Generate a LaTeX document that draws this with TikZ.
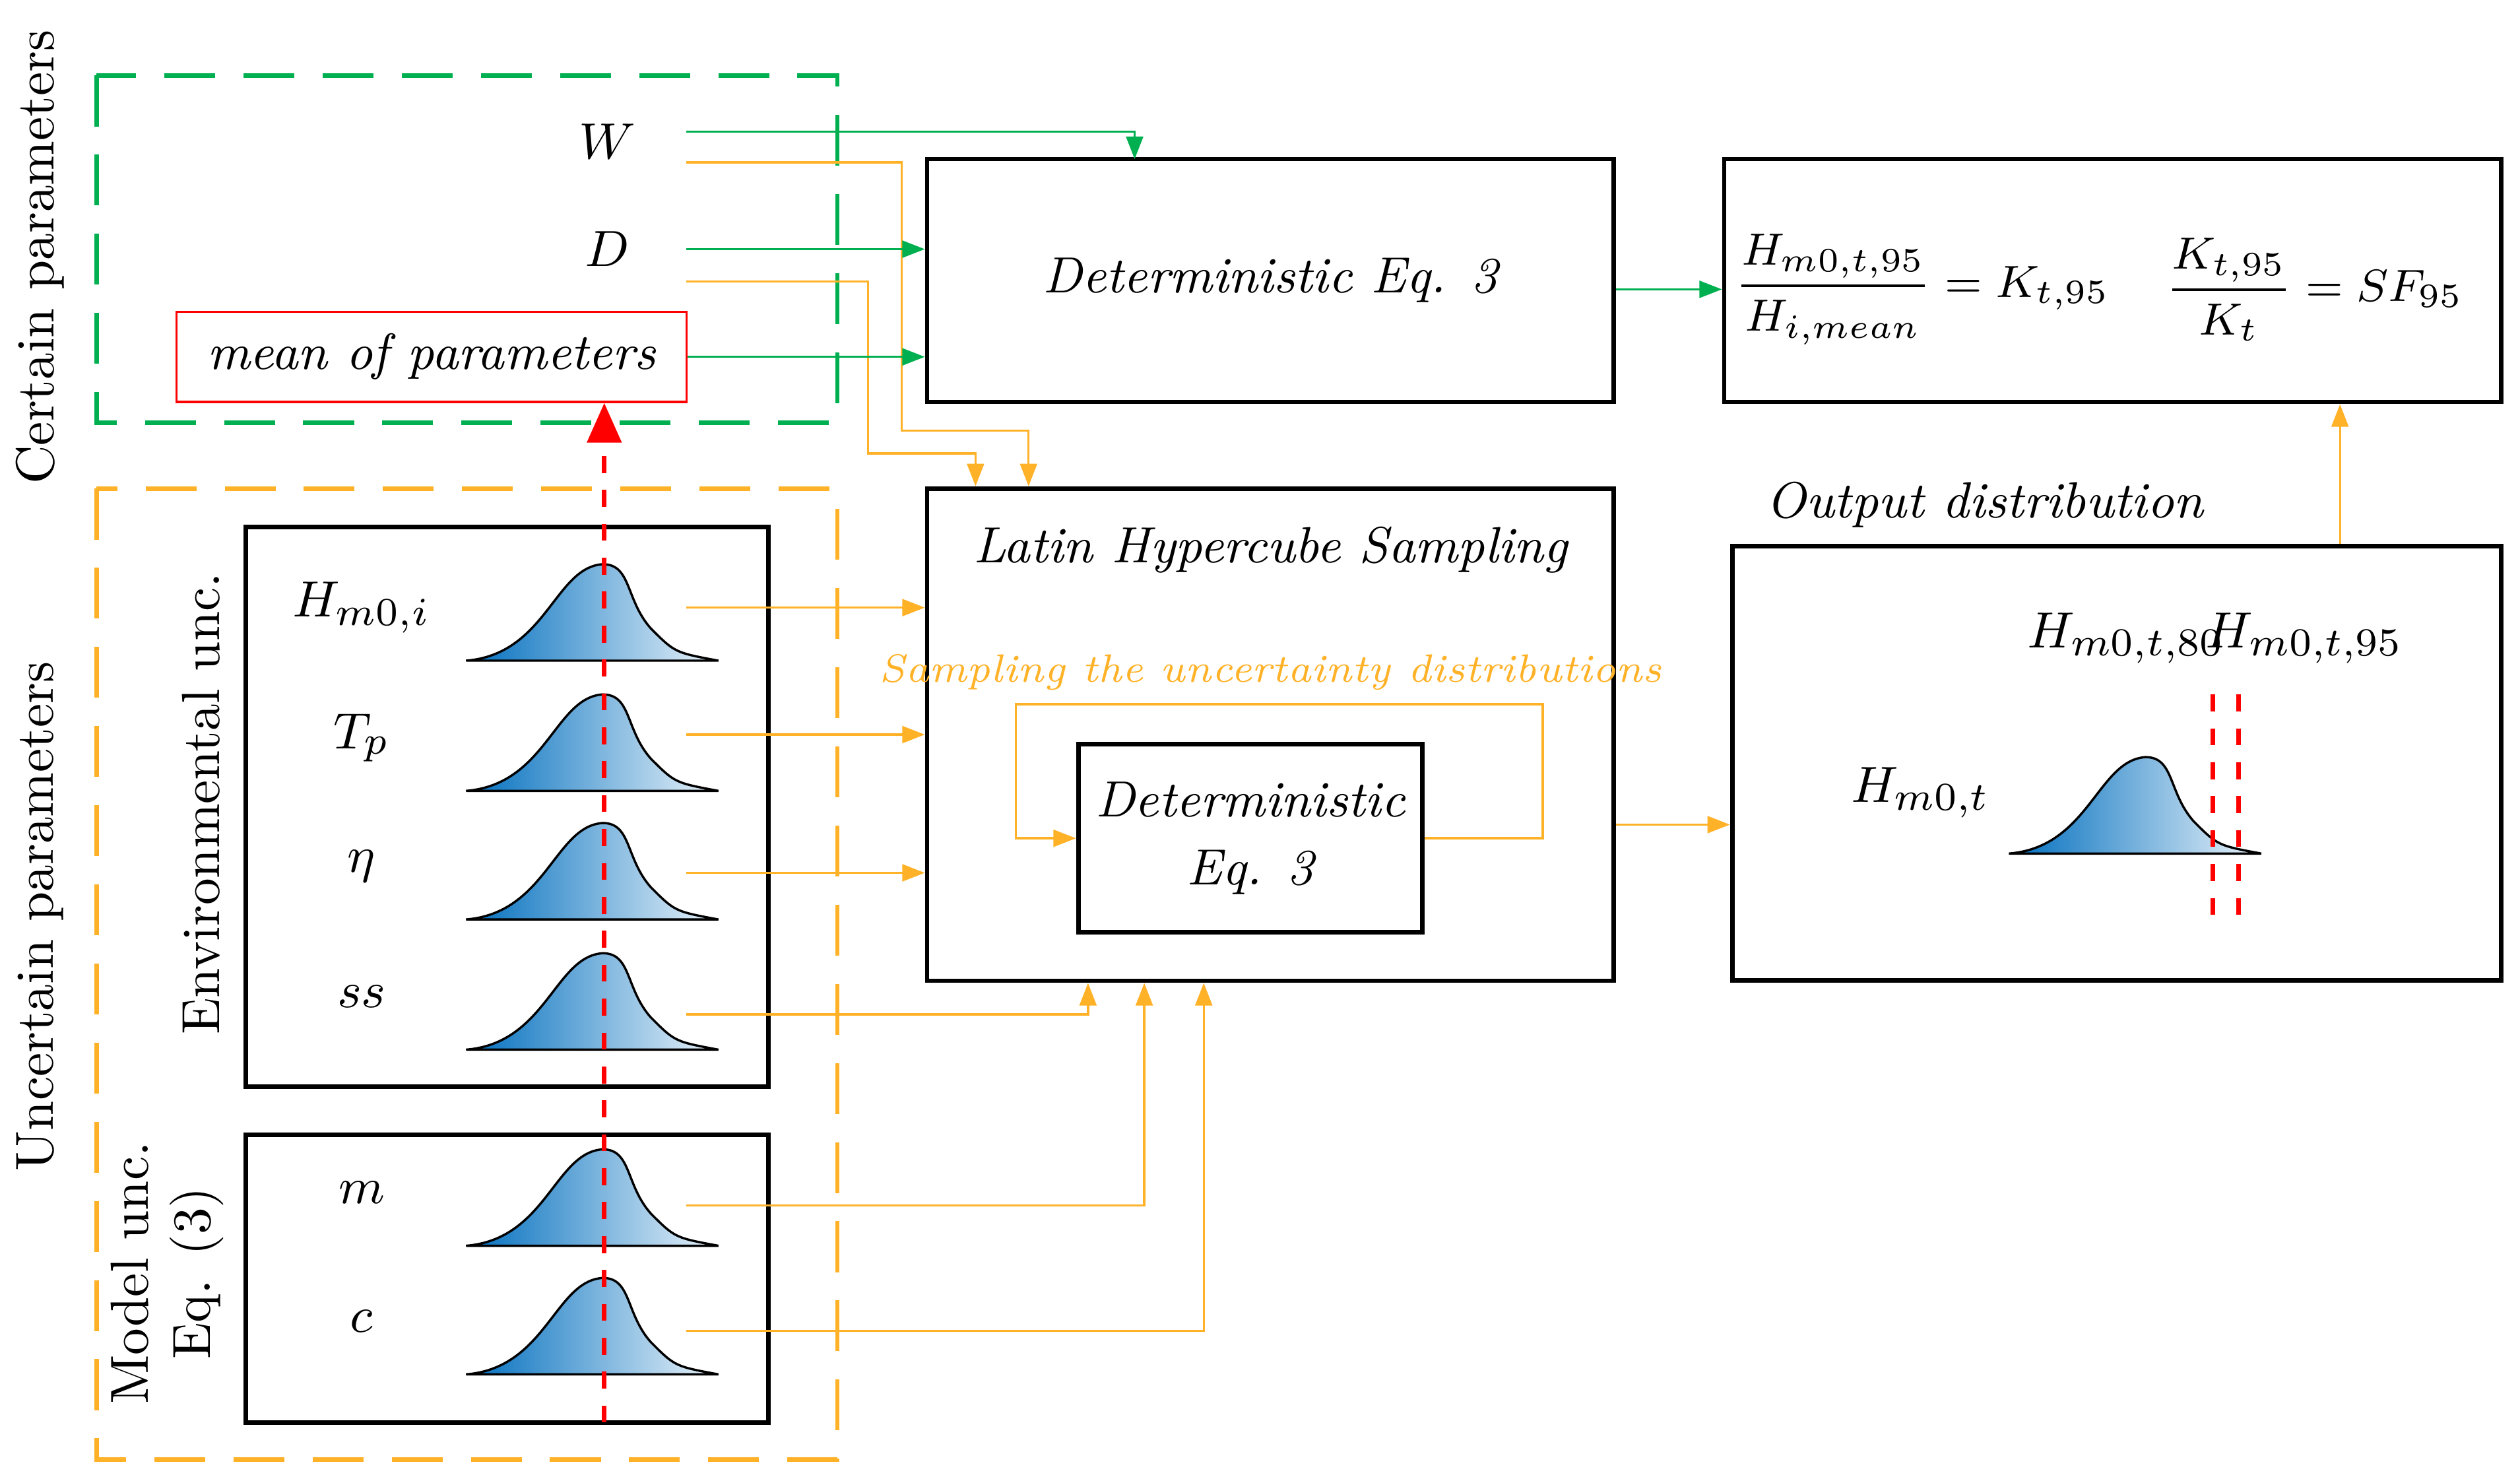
\documentclass[tikz,border=0pt]{standalone}
\usetikzlibrary{arrows.meta}
\definecolor{certgreen}{RGB}{0,176,80}
\definecolor{uncorange}{RGB}{255,178,40}
\definecolor{distblue}{RGB}{0,110,190}
\tikzset{
  box/.style={draw, thick, inner sep=0pt},
  lbl/.style={font=\itshape\fontsize{9}{11}\selectfont},
  mth/.style={font=\fontsize{9.5}{11}\selectfont},
  garrow/.style={certgreen, -{Triangle[length=4pt,width=3pt]}},
  oarrow/.style={uncorange, -{Triangle[length=4pt,width=3pt]}},
  side/.style={rotate=90, font=\fontsize{9.5}{11}\selectfont},
  pics/dist/.style={code={
    \draw[left color=distblue, right color=distblue!8, thin]
      (-85,0) .. controls (-35,4) and (-30,58) .. (0,60)
      .. controls (18,60) and (14,38) .. (30,20)
      .. controls (45,5) .. (72,0) -- cycle;}}
}
\begin{document}
\begin{tikzpicture}[x=0.01cm, y=0.01cm]
    \useasboundingbox (0,0) rectangle (1568,-921);
    % parameter groups
    \draw[certgreen, thick, dash pattern=on 9pt off 5pt] (60,-47) rectangle (521,-263);
    \draw[uncorange, thick, dash pattern=on 9pt off 5pt] (60,-304) rectangle (521,-908);
    \node[side] at (25,-160) {Certain parameters};
    \node[side] at (25,-570) {Uncertain parameters};
    \node[side] at (125,-500) {Environmental unc.};
    \node[side, align=center] at (104,-792) {Model unc.\\Eq. (3)};
    \node[box, minimum width=3.25cm, minimum height=3.48cm] (env) at (315.5,-502) {};
    \node[box, minimum width=3.25cm, minimum height=1.79cm] (model) at (315.5,-795.5) {};
    % certain parameters
    \node[mth] (W) at (378,-88) {$W$};
    \node[mth] (D) at (378,-155) {$D$};
    \node[draw=red, minimum width=3.17cm, minimum height=0.56cm, lbl] (mean) at (268.5,-222) {mean of parameters};
    % distributions
    \foreach \y/\t in {411/{H_{m0,i}}, 492/{T_p}, 572/{\eta}, 653/{ss}, 775/{m}, 855/{c}} {
      \pic at (375,-\y) {dist};
      \node[mth] at (225,-\y+33) {$\t$};
    }
    \coordinate (hout) at (427,-378);
    \coordinate (tpout) at (427,-457);
    \coordinate (etaout) at (427,-543);
    \coordinate (ssout) at (427,-631);
    \coordinate (mout) at (427,-750);
    \coordinate (cout) at (427,-828);
    \coordinate (mbottom) at (376,-885);
    \draw[red, thick, dashed, -{Triangle[length=7pt,width=6pt]}] (mbottom) -- (mean.south -| mbottom);
    % main boxes
    \node[box, minimum width=4.27cm, minimum height=1.51cm, lbl] (det) at (790.5,-174.5) {Deterministic Eq. 3};
    \node[box, minimum width=4.27cm, minimum height=3.06cm] (lhs) at (790.5,-457) {};
    \node[lbl] at (790.5,-342) {Latin Hypercube Sampling};
    \node[lbl, uncorange, font=\itshape\fontsize{7}{9}\selectfont] at (790.5,-418) {Sampling the uncertainty distributions};
    \node[box, minimum width=2.14cm, minimum height=1.17cm, align=center, lbl, font=\itshape\fontsize{9}{12}\selectfont] (inner) at (778,-521.5) {Deterministic\\Eq. 3};
    \node[box, minimum width=4.78cm, minimum height=2.70cm] (out) at (1317,-475) {};
    \node[lbl] at (1235,-314) {Output distribution};
    \node[box, minimum width=4.83cm, minimum height=1.51cm] (form) at (1314.5,-174.5) {};
    \node[font=\fontsize{8.5}{10}\selectfont] at (1196,-180) {$\displaystyle\frac{H_{m0,t,95}}{H_{i,mean}} = K_{t,95}$};
    \node[font=\fontsize{8.5}{10}\selectfont] at (1440,-180) {$\displaystyle\frac{K_{t,95}}{K_t} = SF_{95}$};
    % output distribution
    \pic at (1335,-531) {dist};
    \node[mth] (hm) at (1195,-493) {$H_{m0,t}$};
    \node[mth] (h80) at (1323,-397) {$H_{m0,t,80}$};
    \node[mth] (h95) at (1434,-397) {$H_{m0,t,95}$};
    \draw[red, thick, dashed] (1377,-432) -- (1377,-575);
    \draw[red, thick, dashed] (1393,-432) -- (1393,-575);
    % connectors
    \coordinate (Wa) at (427,-82);
    \coordinate (Wb) at (427,-101);
    \coordinate (Da) at (427,-155);
    \coordinate (Db) at (427,-175);
    \draw[garrow] (Wa) -| (706,-99);
    \draw[oarrow] (Wb) -- (561,-101) |- (640,-268) -- (lhs.north -| 640,0);
    \draw[garrow] (Da) -- (det.west |- Da);
    \draw[oarrow] (Db) -- (540,-175) |- (607,-282) -- (lhs.north -| 607,0);
    \draw[garrow] (mean.east) -- (det.west |- mean.east);
    \draw[garrow] (det.east |- 0,-180) -- (form.west |- 0,-180);
    \draw[oarrow] (out.north -| 1456,0) -- (form.south -| 1456,0);
    \draw[oarrow] (lhs.east |- 0,-513) -- (out.west |- 0,-513);
    \draw[oarrow] (inner.east) -- (960,-521.5) |- (632,-438) |- (inner.west);
    \draw[oarrow] (hout) -- (lhs.west |- hout);
    \draw[oarrow] (tpout) -- (lhs.west |- tpout);
    \draw[oarrow] (etaout) -- (lhs.west |- etaout);
    \draw[oarrow] (ssout) -| (lhs.south -| 677,0);
    \draw[oarrow] (mout) -| (lhs.south -| 712,0);
    \draw[oarrow] (cout) -| (lhs.south -| 749,0);
\end{tikzpicture}
\end{document}
